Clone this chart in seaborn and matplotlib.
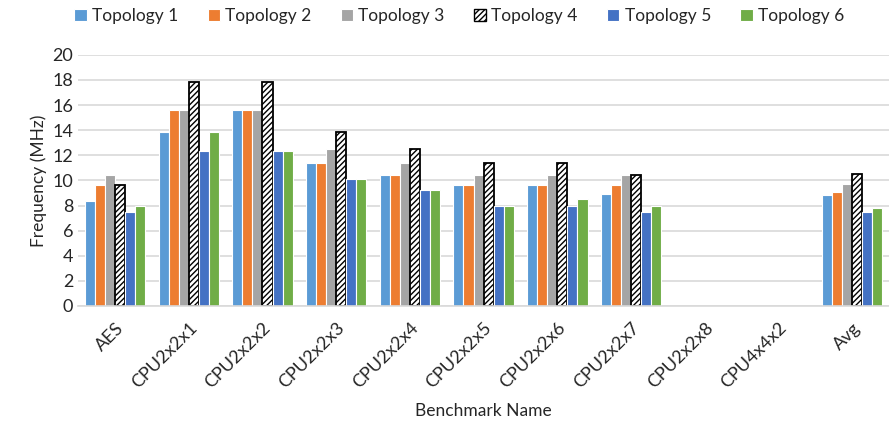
import pandas as pd
import seaborn as sns
import matplotlib.pyplot as plt

# --- Données ---
benchmarks = ['AES', 'CPU2x2x1', 'CPU2x2x2', 'CPU2x2x3', 'CPU2x2x4', 'CPU2x2x5',
              'CPU2x2x6', 'CPU2x2x7', 'CPU2x2x8', 'CPU4x4x2', 'Avg']
topologies = ['Topology 1', 'Topology 2', 'Topology 3', 'Topology 4', 'Topology 5', 'Topology 6']

topo1 = [8.33, 13.89, 15.63, 11.36, 10.42, 9.62, 9.62, 8.93, 0, 0, 8.8]
topo2 = [9.62, 15.63, 15.63, 11.36, 10.42, 9.62, 9.62, 9.62, 0, 0, 9.1]
topo3 = [10.42, 15.63, 15.63, 12.50, 11.36, 10.42, 10.42, 10.42, 0, 0, 9.7]
topo4 = [9.62, 17.86, 17.86, 13.89, 12.50, 11.36, 11.36, 10.42, 0, 0, 10.5]
topo5 = [7.46, 12.35, 12.35, 10.10, 9.26, 7.94, 7.94, 7.46, 0, 0, 7.5]
topo6 = [7.94, 13.89, 12.35, 10.10, 9.26, 7.94, 8.55, 7.94, 0, 0, 7.8]

colors = ['#5B9BD5', '#ED7D31', '#A5A5A5', '#FFFFFF', '#4472C4', '#70AD47']

rows = []
for name, vals in zip(topologies, [topo1, topo2, topo3, topo4, topo5, topo6]):
    for b, v in zip(benchmarks, vals):
        rows.append({'Benchmark': b, 'Topology': name, 'Freq': v})
df = pd.DataFrame(rows)

sns.set_style('white')
plt.rcParams['font.family'] = ['Lato', 'DejaVu Sans']
plt.rcParams['hatch.linewidth'] = 1.0

fig, ax = plt.subplots(figsize=(8.89, 4.25), dpi=100)
sns.barplot(data=df, x='Benchmark', y='Freq', hue='Topology', palette=colors,
            saturation=1, width=0.82, ax=ax, edgecolor='white', linewidth=0.8)

# Topologie 4 : barres hachurées avec bord noir
for patch in ax.containers[3]:
    patch.set_hatch('//////')
    patch.set_edgecolor('black')
    patch.set_linewidth(1.3)

# pas de trait pour les barres à zéro
for cont in ax.containers:
    for patch in cont:
        if patch.get_height() == 0:
            patch.set_visible(False)

ax.set_ylim(0, 20)
ax.set_yticks(range(0, 21, 2))
ax.yaxis.grid(True, color='#D9D9D9', linewidth=1.2)
ax.set_axisbelow(True)
for s in ['top', 'right', 'left']:
    ax.spines[s].set_visible(False)
ax.spines['bottom'].set_color('#D9D9D9')
ax.spines['bottom'].set_linewidth(1.2)
ax.tick_params(length=0, labelsize=13)
ax.tick_params(axis='x', pad=10)
plt.setp(ax.get_xticklabels(), rotation=45, ha='right', rotation_mode='anchor')
ax.set_xlabel('Benchmark Name', fontsize=12.5, labelpad=8)
ax.set_ylabel('Frequency (MHz)', fontsize=12.5)

handles, labels = ax.get_legend_handles_labels()
leg = ax.legend(handles, labels, loc='lower center', bbox_to_anchor=(0.47, 1.06), ncol=6,
                frameon=False, fontsize=12.5, handlelength=0.7, handleheight=0.7,
                handletextpad=0.3, columnspacing=1.7)
h4 = leg.legend_handles[3]
h4.set_hatch('//////')
h4.set_edgecolor('black')
h4.set_linewidth(1.0)

fig.subplots_adjust(left=0.088, right=1.0, top=0.871, bottom=0.28)
fig.savefig('out.png', dpi=100)
